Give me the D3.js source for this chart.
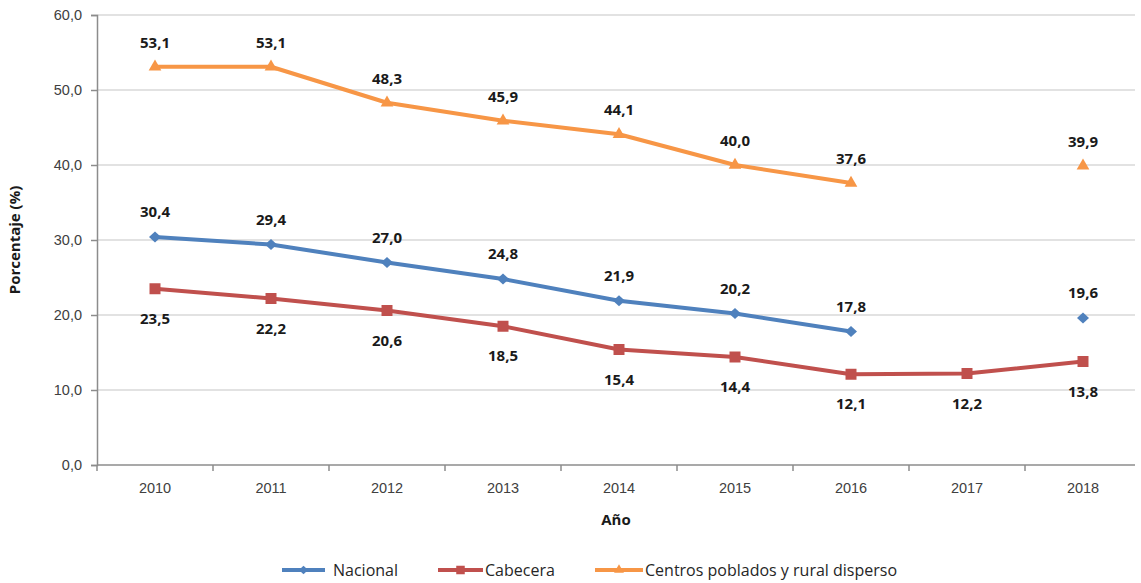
<!DOCTYPE html>
<html>
<head>
<meta charset="utf-8">
<script src="https://cdn.jsdelivr.net/npm/d3@7"></script>
<style>
  body { margin: 0; background: #fff; }
  svg { font-family: "Open Sans", sans-serif; }
  .tick text { fill: #404040; font-size: 14.5px; }
  .val { font-size: 15px; font-weight: bold; fill: #1a1a1a; }
</style>
</head>
<body>
<div id="chart"></div>
<script>
const years = ["2010", "2011", "2012", "2013", "2014", "2015", "2016", "2017", "2018"];
const nacional = [30.4, 29.4, 27.0, 24.8, 21.9, 20.2, 17.8, null, 19.6];
const cabecera = [23.5, 22.2, 20.6, 18.5, 15.4, 14.4, 12.1, 12.2, 13.8];
const centros = [53.1, 53.1, 48.3, 45.9, 44.1, 40.0, 37.6, null, 39.9];
const yTicks = [0, 10, 20, 30, 40, 50, 60];

// diamond a bit wider than d3's default one
const wideDiamond = {
    draw(ctx, size) {
        let r = Math.sqrt(size / 2);
        ctx.moveTo(0, -r * 0.95);
        ctx.lineTo(r * 1.05, 0);
        ctx.lineTo(0, r * 0.95);
        ctx.lineTo(-r * 1.05, 0);
        ctx.closePath();
    }
};

const series = [
    {name: "Nacional", values: nacional, color: "#4F81BD", symbol: wideDiamond, size: 65, dy: -20},
    {name: "Cabecera", values: cabecera, color: "#C0504D", symbol: d3.symbolSquare, size: 121, dy: 35},
    {name: "Centros poblados y rural disperso", values: centros, color: "#F79646", symbol: d3.symbolTriangle, size: 70, dy: -19}
];

const width = 1141, height = 583;
const margin = {top: 15, right: 0, bottom: 118, left: 97};

const svg = d3.select("#chart").append("svg")
    .attr("width", width)
    .attr("height", height);

const x = d3.scaleBand()
    .domain(years)
    .range([margin.left, width - margin.right]);

const y = d3.scaleLinear()
    .domain([0, 60])
    .range([height - margin.bottom, margin.top]);

const fmt = v => d3.format(".1f")(v).replace(".", ",");

// grid
svg.append("g")
    .selectAll("line")
    .data(yTicks.filter(d => d > 0))
    .join("line")
    .attr("x1", margin.left)
    .attr("x2", width - margin.right - 6)
    .attr("y1", d => y(d))
    .attr("y2", d => y(d))
    .attr("stroke", "#d9d9d9")
    .attr("stroke-width", 1.5);

// y axis
const yAxis = svg.append("g")
    .attr("transform", `translate(${margin.left},0)`)
    .call(d3.axisLeft(y).tickValues(yTicks).tickFormat(fmt).tickSize(6).tickPadding(9));
yAxis.select(".domain").attr("stroke", "#8c8c8c").attr("stroke-width", 1.5);
yAxis.selectAll(".tick line").attr("stroke", "#8c8c8c").attr("stroke-width", 1.5);

// x axis
const xAxis = svg.append("g")
    .attr("transform", `translate(0,${y(0)})`)
    .call(d3.axisBottom(x).tickSize(0).tickPadding(18));
xAxis.select(".domain").remove();
xAxis.append("line")
    .attr("x1", margin.left).attr("x2", width - margin.right - 6)
    .attr("stroke", "#8c8c8c").attr("stroke-width", 1.5);
xAxis.selectAll(".sep")
    .data(years.slice(1))
    .join("line")
    .attr("class", "sep")
    .attr("x1", d => x(d)).attr("x2", d => x(d))
    .attr("y1", 0).attr("y2", 6)
    .attr("stroke", "#8c8c8c").attr("stroke-width", 1.5);
xAxis.append("line")
    .attr("x1", margin.left).attr("x2", margin.left)
    .attr("y1", 0).attr("y2", 6)
    .attr("stroke", "#8c8c8c").attr("stroke-width", 1.5);

// axis titles
svg.append("text")
    .attr("x", x.range()[0] + (x.range()[1] - x.range()[0]) / 2 - 3)
    .attr("y", 525)
    .attr("text-anchor", "middle")
    .attr("font-size", 15)
    .attr("font-weight", "bold")
    .attr("fill", "#1a1a1a")
    .text("Año");

svg.append("text")
    .attr("transform", `translate(20,${(margin.top + y(0)) / 2}) rotate(-90)`)
    .attr("text-anchor", "middle")
    .attr("font-size", 15)
    .attr("font-weight", "bold")
    .attr("fill", "#1a1a1a")
    .text("Porcentaje (%)");

const cx = d => x(d) + x.bandwidth() / 2;

const line = d3.line()
    .defined(d => d.v != null)
    .x(d => cx(d.year))
    .y(d => y(d.v));

series.forEach(s => {
    let pts = years.map((yr, i) => ({year: yr, v: s.values[i]}));
    let g = svg.append("g");

    g.append("path")
        .datum(pts)
        .attr("fill", "none")
        .attr("stroke", s.color)
        .attr("stroke-width", 4)
        .attr("stroke-linejoin", "round")
        .attr("d", line);

    let ok = pts.filter(d => d.v != null);

    g.selectAll("path.mk")
        .data(ok)
        .join("path")
        .attr("class", "mk")
        .attr("transform", d => `translate(${cx(d.year)},${y(d.v)})`)
        .attr("d", d3.symbol().type(s.symbol).size(s.size))
        .attr("fill", s.color);

    g.selectAll("text")
        .data(ok)
        .join("text")
        .attr("class", "val")
        .attr("x", d => cx(d.year))
        .attr("y", d => y(d.v) + s.dy)
        .attr("text-anchor", "middle")
        .text(d => fmt(d.v));
});

// legend
const legendPos = [282, 438, 595];
const legendW = [43, 45, 48];
const legend = svg.append("g").attr("transform", "translate(0,570)");
series.forEach((s, i) => {
    let lx = legendPos[i];
    let w = legendW[i];
    legend.append("line")
        .attr("x1", lx).attr("x2", lx + w)
        .attr("stroke", s.color)
        .attr("stroke-width", 4);
    legend.append("path")
        .attr("transform", `translate(${lx + w / 2},0)`)
        .attr("d", d3.symbol().type(s.symbol).size(s.size * 0.6))
        .attr("fill", s.color);
    legend.append("text")
        .attr("x", lx + w + (i == 0 ? 8 : 2))
        .attr("y", 6)
        .attr("font-size", 16)
        .attr("fill", "#262626")
        .text(s.name);
});
</script>
</body>
</html>
